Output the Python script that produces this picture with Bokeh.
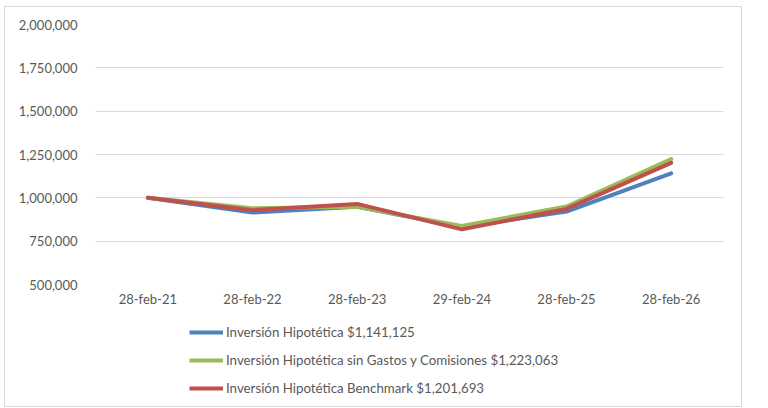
from bokeh.plotting import figure
from bokeh.layouts import column
from bokeh.models import FactorRange, Range1d, NumeralTickFormatter, FixedTicker, Legend, LegendItem
from bokeh.embed import file_html
from bokeh.resources import INLINE

categories = ["28-feb-21", "28-feb-22", "28-feb-23", "29-feb-24", "28-feb-25", "28-feb-26"]
inv_hipotetica = [1000000, 915000, 948000, 832000, 921000, 1141125]
inv_sin_gastos = [1000000, 940000, 948000, 838000, 950000, 1223063]
inv_benchmark = [1000000, 929000, 965000, 818000, 936000, 1201693]
y_ticks = [500000, 750000, 1000000, 1250000, 1500000, 1750000, 2000000]

labels = [
    "Inversión Hipotética $1,141,125",
    "Inversión Hipotética sin Gastos y Comisiones $1,223,063",
    "Inversión Hipotética Benchmark $1,201,693",
]
colors = ["#4F81BD", "#9BBB59", "#C0504D"]

FONT = "Lato"
TXT = "#595959"
W = 736

p = figure(
    x_range=FactorRange(*categories, range_padding=0),
    y_range=Range1d(500000, 2000000),
    width=W, height=307,
    output_backend="svg", toolbar_location=None,
    min_border_left=90, min_border_right=18, min_border_top=17, min_border_bottom=30,
)
p.outline_line_color = None
p.xgrid.grid_line_color = None
p.ygrid.grid_line_color = "#d9d9d9"
p.ygrid.grid_line_width = 1

p.yaxis.ticker = FixedTicker(ticks=y_ticks)
p.yaxis.formatter = NumeralTickFormatter(format="0,0")
for ax in (p.xaxis[0], p.yaxis[0]):
    ax.axis_line_color = None
    ax.major_tick_line_color = None
    ax.minor_tick_line_color = None
    ax.major_tick_out = 0
    ax.major_tick_in = 0
    ax.minor_tick_out = 0
    ax.major_label_text_font = FONT
    ax.major_label_text_font_size = "13px"
    ax.major_label_text_color = TXT
p.yaxis.major_label_standoff = 18
p.xaxis.major_label_standoff = 6

for vals, c in zip([inv_hipotetica, inv_sin_gastos, inv_benchmark], colors):
    p.line(categories, vals, line_color=c, line_width=4, line_cap="round", line_join="round")

# legend panel (its frame is aligned with the chart's frame by the column layout)
p2 = figure(
    width=W, height=92,
    x_range=Range1d(10, 11), y_range=Range1d(10, 11),
    output_backend="svg", toolbar_location=None,
    x_axis_location=None, y_axis_location=None,
    min_border=0,
)
p2.outline_line_color = None
p2.grid.visible = False
leg_renderers = [p2.line(x=[0, 1], y=[0, 0], line_color=c, line_width=4) for c in colors]

legend = Legend(
    items=[LegendItem(label=l, renderers=[r]) for l, r in zip(labels, leg_renderers)],
    location=(94, 8),
    orientation="vertical",
    border_line_color=None,
    background_fill_alpha=0,
    padding=0, margin=0, spacing=8,
    glyph_width=34, glyph_height=20, label_height=20,
    label_standoff=3,
    label_text_font=FONT, label_text_font_size="13.3px", label_text_color=TXT,
)
p2.add_layout(legend, "center")

layout = column(p, p2, spacing=0)
layout.styles = {"border": "1px solid #d9d9d9", "margin-left": "4px", "margin-top": "6px"}

open("out.html", "w").write(file_html(layout, INLINE))
